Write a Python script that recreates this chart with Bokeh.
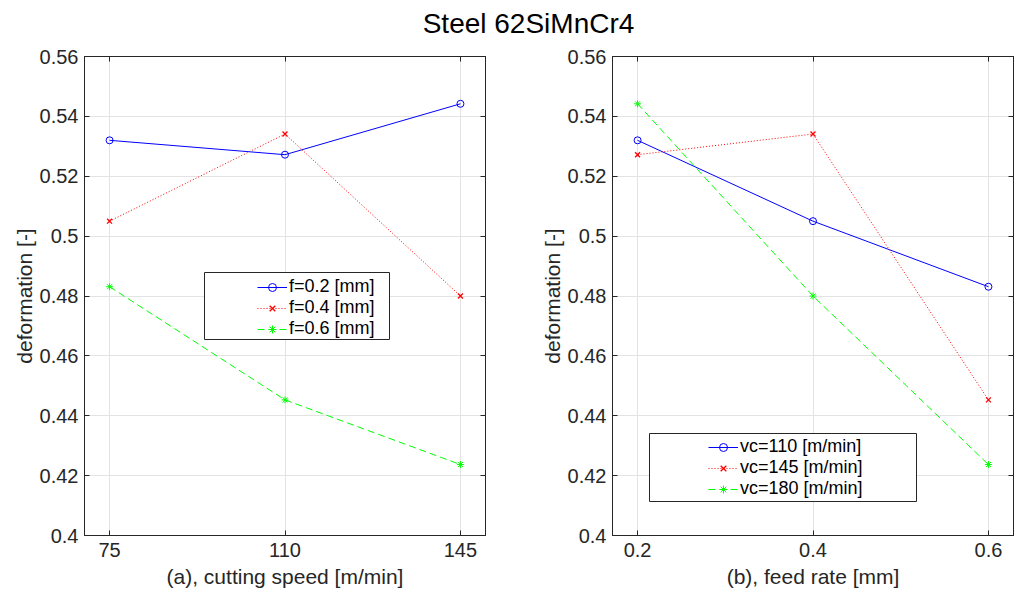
from bokeh.plotting import figure
from bokeh.layouts import column, row
from bokeh.models import (FixedTicker, CustomJSTickFormatter, LinearAxis, Legend,
                          LegendItem, BoxAnnotation, Div, Range1d)
from bokeh.embed import file_html
from bokeh.resources import INLINE

# ---------------- data ----------------
chart_title = "Steel 62SiMnCr4"
speeds = [75, 110, 145]          # cutting speed [m/min]
feeds = [0.2, 0.4, 0.6]          # feed rate [mm]
y_ticks = [0.40, 0.42, 0.44, 0.46, 0.48, 0.50, 0.52, 0.54, 0.56]

# (a) deformation vs cutting speed, one series per feed
labels_a = ["f=0.2 [mm]", "f=0.4 [mm]", "f=0.6 [mm]"]
def_f02 = [0.5320, 0.5272, 0.5442]
def_f04 = [0.5050, 0.5341, 0.4800]
def_f06 = [0.4831, 0.4453, 0.4237]

# (b) deformation vs feed rate, one series per cutting speed
labels_b = ["vc=110 [m/min]", "vc=145 [m/min]", "vc=180 [m/min]"]
def_vc110 = [0.5320, 0.5050, 0.4831]
def_vc145 = [0.5272, 0.5341, 0.4453]
def_vc180 = [0.5442, 0.4800, 0.4237]

# ---------------- styles ----------------
FONT = "Liberation Sans"
AX = "#262626"
styles = [
    dict(color="#0000ff", dash="solid", marker="circle", size=7, mw=1),
    dict(color="#ff0000", dash="1 2", marker="x", size=7, mw=1.3),
    dict(color="#00ff00", dash="7 4", marker="asterisk", size=7, mw=1),
]
fmt_code = "return String(Number(tick.toFixed(2)))"


def make_panel(xs, series, labels, x_ticks, x_range, xlabel, width,
               mb_left, mb_right, leg_loc, box):
    p = figure(width=width, height=556, x_range=x_range,
               y_range=Range1d(y_ticks[0], y_ticks[-1]),
               output_backend="svg", toolbar_location=None,
               min_border_left=mb_left, min_border_right=mb_right,
               min_border_top=20, min_border_bottom=57,
               background_fill_color="white", border_fill_color="white")
    p.outline_line_color = AX
    p.outline_line_width = 1

    p.xaxis.ticker = FixedTicker(ticks=x_ticks)
    p.yaxis.ticker = FixedTicker(ticks=y_ticks)
    for ax in (p.xaxis[0], p.yaxis[0]):
        ax.formatter = CustomJSTickFormatter(code=fmt_code)
        ax.major_tick_in = 5
        ax.major_tick_out = 0
        ax.minor_tick_line_color = None
        ax.axis_line_color = AX
        ax.major_tick_line_color = AX
        ax.major_label_text_font = FONT
        ax.major_label_text_font_size = "20px"
        ax.major_label_text_color = AX
        ax.axis_label_text_font = FONT
        ax.axis_label_text_font_size = "21px"
        ax.axis_label_text_font_style = "normal"
        ax.axis_label_text_color = AX
    p.xaxis.axis_label = xlabel
    p.yaxis.axis_label = "deformation [-]"
    p.xaxis.major_label_standoff = 7
    p.xaxis.axis_label_standoff = 5
    p.yaxis.major_label_standoff = 6
    p.yaxis.axis_label_standoff = 1

    # mirrored box ticks (top / right)
    for place, ticks in (("right", y_ticks), ("above", x_ticks)):
        ax = LinearAxis(ticker=FixedTicker(ticks=ticks),
                        formatter=CustomJSTickFormatter(code="return ''"),
                        major_tick_in=5, major_tick_out=0,
                        minor_tick_line_color=None, major_label_standoff=0,
                        axis_line_color=AX, major_tick_line_color=AX)
        p.add_layout(ax, place)

    p.grid.grid_line_color = "#e3e3e3"
    p.grid.grid_line_width = 1

    items = []
    for ys, lab, st in zip(series, labels, styles):
        rl = p.line(xs, ys, line_color=st["color"], line_width=1,
                    line_dash=st["dash"])
        rm = p.scatter(xs, ys, marker=st["marker"], size=st["size"],
                       line_color=st["color"], fill_color=None,
                       line_width=st["mw"])
        items.append(LegendItem(label=lab, renderers=[rl, rm]))

    p.add_layout(BoxAnnotation(left=box[0], right=box[1], bottom=box[2], top=box[3],
                               left_units="screen", right_units="screen",
                               bottom_units="screen", top_units="screen",
                               fill_color="white", fill_alpha=1.0,
                               line_color=AX, line_width=1, line_alpha=1.0))
    leg = Legend(items=items, location=leg_loc, orientation="vertical",
                 border_line_alpha=0, background_fill_alpha=0, padding=0,
                 spacing=0, margin=0, glyph_width=30, glyph_height=20,
                 label_height=20, label_standoff=2,
                 label_text_font=FONT, label_text_font_size="18px",
                 label_text_color="black")
    p.add_layout(leg)
    return p


pad_a = (speeds[-1] - speeds[0]) / 14
p1 = make_panel(speeds, [def_f02, def_f04, def_f06], labels_a, speeds,
                Range1d(speeds[0] - pad_a, speeds[-1] + pad_a),
                "(a), cutting speed [m/min]", 505, 84, 20,
                (173, 196), (120, 305, 196, 263))

pad_b = (feeds[-1] - feeds[0]) / 14
p2 = make_panel(feeds, [def_vc110, def_vc145, def_vc180], labels_b, feeds,
                Range1d(feeds[0] - pad_b, feeds[-1] + pad_b),
                "(b), feed rate [mm]", 510, 107, 2,
                (96, 36), (37, 304, 34, 102))

title = Div(text=('<span style="position:relative; left:21px; top:6px; '
                  'font-family:\'Liberation Sans\'; font-size:28px; '
                  'line-height:36px; color:black;">' + chart_title + '</span>'),
            width=1015, height=36, margin=(0, 0, 0, 0),
            styles={"text-align": "center", "line-height": "36px"})

layout = column(title, row(p1, p2, spacing=0), spacing=0)

open("out.html", "w").write(file_html(layout, INLINE))
